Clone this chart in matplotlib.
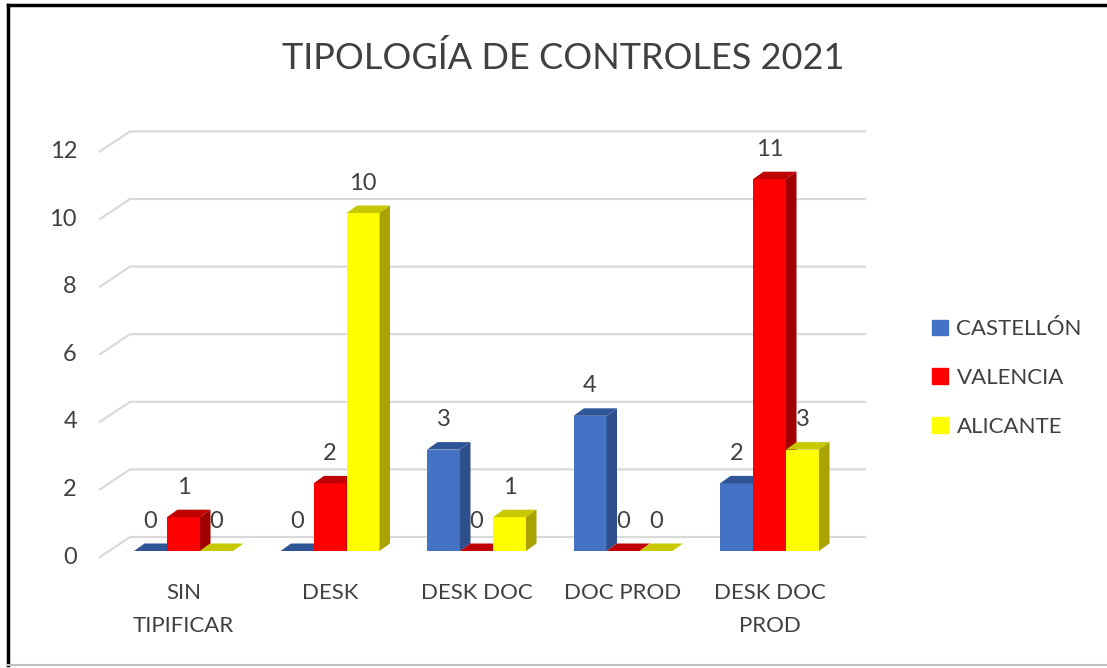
import matplotlib

matplotlib.use("Agg")
import matplotlib.pyplot as plt
from matplotlib.patches import Polygon
from matplotlib.lines import Line2D
import numpy as np

plt.rcParams["font.family"] = ["Lato", "DejaVu Sans"]

categories = ["SIN\nTIPIFICAR", "DESK", "DESK DOC", "DOC PROD", "DESK DOC\nPROD"]
series = ["CASTELLÓN", "VALENCIA", "ALICANTE"]
castellon = [0, 0, 3, 4, 2]
valencia = [1, 2, 0, 0, 11]
alicante = [0, 10, 1, 0, 3]
y_ticks = [0, 2, 4, 6, 8, 10, 12]

# front / top / side shades per series
FRONT = ["#4472C4", "#FF0000", "#FFFF00"]
TOP = ["#2F5597", "#C00000", "#C8C800"]
SIDE = ["#2E4E8C", "#A00000", "#A9A200"]
TEXT = "#404040"
GRID = "#D9D9D9"

# pixel geometry -> data units
PX_X = 146.5   # px per category
PX_Y = 33.8    # px per unit
BAR_W = 33 / PX_X
DDX, DDY = 10.5 / PX_X, 7.5 / PX_Y          # bar depth
WALL_DX, WALL_DY = 30 / PX_X, 20 / PX_Y      # floor depth
FLOOR_FRONT = -6 / PX_Y

fig = plt.figure(figsize=(11.07, 6.68), dpi=100)
W, H = 1107, 668
x0_px, y0_px = 183.5, 551
xlim = (-1.0, 5.0)
ylim = (-1.0, 13.5)
left = (x0_px + xlim[0] * PX_X) / W
right = (x0_px + xlim[1] * PX_X) / W
bottom = (H - (y0_px - ylim[0] * PX_Y)) / H
top = (H - (y0_px - ylim[1] * PX_Y)) / H
ax = fig.add_axes([left, bottom, right - left, top - bottom])
ax.set_xlim(*xlim)
ax.set_ylim(*ylim)
ax.axis("off")

# back wall gridlines with the diagonal floor step
wall_left = (100 - x0_px) / PX_X
wall_right = (865 - x0_px) / PX_X
for v in y_ticks:
    yb = v + FLOOR_FRONT
    ax.plot([wall_left, wall_left + WALL_DX, wall_right],
            [yb, yb + WALL_DY, yb + WALL_DY], color=GRID, lw=1.6, zorder=1)
    ax.text(wall_left - 23 / PX_X, yb, str(v), ha="right", va="center",
            fontsize=17, color=TEXT)

x = np.arange(len(categories))
values = [castellon, valencia, alicante]
z = 3
for i in range(len(categories)):
    for s in range(3):
        v = values[s][i]
        xl = x[i] + (s - 1) * BAR_W - BAR_W / 2
        xr = xl + BAR_W
        ax.bar(xl, v, width=BAR_W, align="edge", color=FRONT[s], lw=0, zorder=z)
        ax.add_patch(Polygon([(xl, v), (xr, v), (xr + DDX, v + DDY), (xl + DDX, v + DDY)],
                             closed=True, color=TOP[s], lw=0, zorder=z))
        ax.add_patch(Polygon([(xr, 0), (xr + DDX, DDY), (xr + DDX, v + DDY), (xr, v)],
                             closed=True, color=SIDE[s], lw=0, zorder=z))
        ax.text(xl + BAR_W / 2, v + 30 / PX_Y, str(v), ha="center", va="center",
                fontsize=17, color=TEXT, zorder=2)
        z += 1

for i, c in enumerate(categories):
    ax.text(x[i], -0.95, c, ha="center", va="top", fontsize=16, color=TEXT,
            linespacing=1.8)

fig.text(563 / W, 1 - 58 / H, "TIPOLOGÍA DE CONTROLES 2021", ha="center", va="center",
         fontsize=26, color=TEXT)

handles = [plt.Rectangle((0, 0), 1, 1, color=c) for c in FRONT]
fig.legend(handles, series, loc="center left", bbox_to_anchor=(912 / W, 1 - 378 / H),
           frameon=False, fontsize=16, labelcolor=TEXT, handlelength=0.7,
           handleheight=0.7, handletextpad=0.4, labelspacing=1.3)

# outer frame
fig.add_artist(Line2D([8 / W, 8 / W], [1 - 5 / H, 1 - 665 / H], color="black", lw=2.5,
                      transform=fig.transFigure))
fig.add_artist(Line2D([8 / W, 1], [1 - 5 / H, 1 - 5 / H], color="black", lw=2.5,
                      transform=fig.transFigure))
fig.add_artist(Line2D([8 / W, 1], [1 - 665 / H, 1 - 665 / H], color="#BFBFBF", lw=1.5,
                      transform=fig.transFigure))

fig.savefig("out.png", dpi=100)
